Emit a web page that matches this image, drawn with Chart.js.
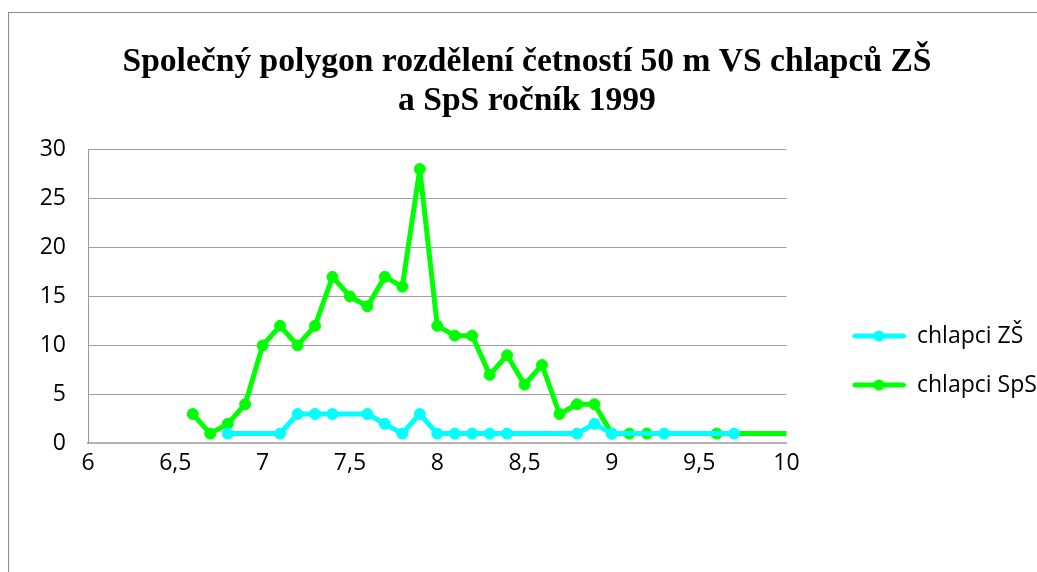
<!DOCTYPE html>
<html>
<head>
<meta charset="utf-8">
<script src="https://cdn.jsdelivr.net/npm/chart.js@4"></script>
<style>
  html, body { margin: 0; padding: 0; background: #fff; overflow: hidden; }
  body { width: 1037px; height: 572px; position: relative; }
  #frame {
    position: absolute; left: 8px; top: 12px; width: 1200px; height: 700px;
    border-left: 1px solid #8c8c8c; border-top: 1px solid #8c8c8c;
  }
  #chart { position: absolute; left: 8px; top: 12px; }
</style>
</head>
<body>
<div id="frame"></div>
<canvas id="chart"></canvas>
<script>
// ---- data ----
const titleLines = ['Společný polygon rozdělení četností 50 m VS chlapců ZŠ', 'a SpS ročník 1999'];
const seriesNames = ['chlapci ZŠ', 'chlapci SpS'];

// chlapci ZŠ
const zsX = [6.8, 7.1, 7.2, 7.3, 7.4, 7.6, 7.7, 7.8, 7.9, 8.0, 8.1, 8.2, 8.3, 8.4, 8.8, 8.9, 9.0, 9.3, 9.7];
const zsY = [1,   1,   3,   3,   3,   3,   2,   1,   3,   1,   1,   1,   1,   1,   1,   2,   1,   1,   1];

// chlapci SpS
const spsX = [6.6, 6.7, 6.8, 6.9, 7.0, 7.1, 7.2, 7.3, 7.4, 7.5, 7.6, 7.7, 7.8, 7.9, 8.0, 8.1, 8.2, 8.3, 8.4, 8.5, 8.6, 8.7, 8.8, 8.9, 9.0, 9.1, 9.2, 9.6, 10];
const spsY = [3,   1,   2,   4,   10,  12,  10,  12,  17,  15,  14,  17,  16,  28,  12,  11,  11,  7,   9,   6,   8,   3,   4,   4,   1,   1,   1,   1,   1];

const xTickLabels = ['6', '6,5', '7', '7,5', '8', '8,5', '9', '9,5', '10'];
const yTickLabels = ['0', '5', '10', '15', '20', '25', '30'];

const colors = ['#00ffff', '#00ff00'];

// ---- helpers ----
function toPoints(xs, ys) {
    return xs.map((x, i) => ({ x: x, y: ys[i] }));
}

// legend icon: line with a round marker, left part kept blank as spacing
function legendIcon(color) {
    let c = document.createElement('canvas');
    c.width = 93;
    c.height = 14;
    let g = c.getContext('2d');
    g.strokeStyle = color;
    g.lineWidth = 5;
    g.lineCap = 'round';
    g.beginPath();
    g.moveTo(42.5, 7);
    g.lineTo(90.5, 7);
    g.stroke();
    g.fillStyle = color;
    g.beginPath();
    g.arc(66.5, 7, 5.5, 0, Math.PI * 2);
    g.fill();
    return c;
}

const icons = colors.map(legendIcon);

const labelFamily = '"Open Sans"';
const labelSize = 23;

// canvas width so that the plot ends where the legend begins
let mctx = document.createElement('canvas').getContext('2d');
mctx.font = labelSize + 'px ' + labelFamily;
let maxText = Math.max(...seriesNames.map(s => mctx.measureText(s).width));
const plotRight = 778;
const canvasW = Math.round(plotRight + 26 + 93 + labelSize / 2 + maxText + 10);

let cv = document.getElementById('chart');
cv.width = canvasW;
cv.height = 560;

Chart.defaults.color = '#000';
Chart.defaults.font.family = labelFamily;

const lastSps = spsX.length - 1;

new Chart(cv, {
    type: 'scatter',
    data: {
        datasets: [{
            label: seriesNames[0],
            data: toPoints(zsX, zsY),
            showLine: true,
            borderColor: colors[0],
            backgroundColor: colors[0],
            borderWidth: 5,
            borderJoinStyle: 'round',
            pointRadius: 5.5,
            pointBorderWidth: 1,
            pointHoverRadius: 5.5
        }, {
            label: seriesNames[1],
            data: toPoints(spsX, spsY),
            showLine: true,
            borderColor: colors[1],
            backgroundColor: colors[1],
            borderWidth: 5,
            borderJoinStyle: 'round',
            borderCapStyle: 'square',
            pointRadius: ctx => ctx.dataIndex === lastSps ? 0 : 5.5,
            pointBorderWidth: 1,
            pointHoverRadius: 5.5
        }]
    },
    options: {
        responsive: false,
        animation: false,
        devicePixelRatio: 1,
        layout: { padding: { left: 0, top: 0, right: 0, bottom: 89 } },
        plugins: {
            tooltip: { enabled: false },
            title: {
                display: true,
                text: titleLines,
                color: '#000',
                font: { family: '"Liberation Serif", "Times New Roman", serif', size: 33.6, weight: 'bold', lineHeight: '39px' },
                padding: { top: 30.5, bottom: 29 }
            },
            legend: {
                position: 'right',
                align: 'center',
                title: {
                    display: true,
                    text: '',
                    font: { size: 10, lineHeight: 1 },
                    padding: { top: 216, bottom: 0 }
                },
                labels: {
                    usePointStyle: true,
                    pointStyleWidth: 93,
                    padding: 26,
                    color: '#000',
                    font: { family: labelFamily, size: labelSize },
                    generateLabels: chart => {
                        let items = Chart.defaults.plugins.legend.labels.generateLabels(chart);
                        items.forEach((it, i) => { it.pointStyle = icons[i]; });
                        return items;
                    }
                }
            }
        },
        scales: {
            x: {
                type: 'linear',
                min: 6,
                max: 10,
                grid: { display: false, drawTicks: false },
                border: { display: true, color: '#b4b4b4', width: 2 },
                ticks: {
                    stepSize: 0.5,
                    padding: 6,
                    font: { family: labelFamily, size: labelSize },
                    callback: (v, i) => xTickLabels[i]
                }
            },
            y: {
                min: 0,
                max: 30,
                grid: { color: '#a0a0a0', lineWidth: 1, drawTicks: false },
                border: { display: true, color: '#999999', width: 1 },
                ticks: {
                    stepSize: 5,
                    padding: 22,
                    font: { family: labelFamily, size: labelSize },
                    callback: (v, i) => yTickLabels[i]
                },
                afterFit: scale => { scale.width = 80; }
            }
        }
    }
});
</script>
</body>
</html>
